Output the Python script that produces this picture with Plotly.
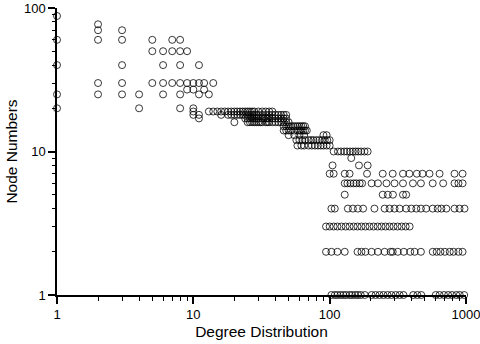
import plotly.graph_objects as go

node_levels = [88, 77, 70, 60, 50, 40, 30, 27, 25, 20, 19, 18, 17, 16, 15, 14, 13, 12, 11, 10, 9, 8, 7, 6, 5, 4, 3, 2, 1]

deg_88 = [1]
deg_77 = [2]
deg_70 = [2, 3]
deg_60 = [1, 2, 3, 5, 7, 8]
deg_50 = [5, 6, 7, 8, 9]
deg_40 = [1, 3, 6, 8, 11]
deg_30 = [2, 3, 5, 6, 7, 8, 9, 10, 11, 12, 14]
deg_27 = [9, 10, 12]
deg_25 = [1, 2, 3, 4, 6, 8, 11, 13]
deg_20 = [1, 4, 8, 10]
deg_19 = [10, 13, 14, 15, 16, 17, 18, 19, 20, 21, 22, 23, 24, 25, 26, 27, 28, 30, 32, 34, 36, 38]
deg_18 = [10, 11, 16, 18, 19, 20, 21, 22, 23, 24, 25, 26, 27, 28, 29, 30, 32, 34, 36, 38, 40, 42, 44, 46, 48]
deg_17 = [11, 24, 25, 26, 27, 28, 29, 30, 32, 33, 34, 35, 36, 38, 40, 42, 44, 46, 48]
deg_16 = [20, 25, 26, 27, 28, 29, 30, 31, 32, 34, 35, 36, 38, 40, 42, 44, 46, 48, 50]
deg_15 = [46, 48, 50, 52, 54, 56, 58, 60, 62, 64, 66]
deg_14 = [46, 48, 50, 52, 55, 58, 60, 62, 64, 66, 68]
deg_13 = [50, 55, 60, 65, 90, 95]
deg_12 = [57, 60, 63, 66, 70, 73, 76, 80, 84, 88, 92, 96, 100]
deg_11 = [58, 62, 65, 70, 74, 78, 82, 86, 90, 95, 100]
deg_10 = [107, 115, 121, 128, 134, 141, 148, 155, 162, 170, 180, 190]
deg_9 = [144]
deg_8 = [105, 164, 190]
deg_7 = [100, 107, 129, 140, 188, 245, 290, 345, 384, 436, 480, 540, 640, 824, 944]
deg_6 = [129, 135, 142, 150, 157, 166, 173, 203, 226, 261, 299, 345, 408, 467, 570, 680, 824, 880, 944]
deg_5 = [129, 245, 267, 291, 345, 364]
deg_4 = [103, 109, 136, 148, 161, 176, 213, 253, 275, 299, 326, 364, 397, 432, 467, 510,
         570, 620, 660, 718, 824, 896, 975]
deg_3 = [94, 100, 107, 114, 122, 131, 140, 150, 160, 171, 183, 196, 210, 225, 240, 257,
         275, 294, 315, 337, 361, 386]
deg_2 = [94, 103, 114, 129, 160, 171, 183, 203, 226, 253, 280, 290, 316, 350, 390, 420,
         467, 570, 610, 650, 700, 760, 810, 880, 944]
deg_1 = [103, 109, 114, 120, 126, 132, 140, 146, 154, 161, 169, 181, 203, 217, 232, 248,
         266, 284, 305, 326, 348, 410, 440, 470, 600, 640, 690, 740, 790, 850, 900, 970]

degree_rows = [deg_88, deg_77, deg_70, deg_60, deg_50, deg_40, deg_30, deg_27, deg_25, deg_20,
               deg_19, deg_18, deg_17, deg_16, deg_15, deg_14, deg_13, deg_12, deg_11, deg_10,
               deg_9, deg_8, deg_7, deg_6, deg_5, deg_4, deg_3, deg_2, deg_1]

xs, ys = [], []
for level, row in zip(node_levels, degree_rows):
    for d in row:
        xs.append(d)
        ys.append(level)

x_tick_vals = [1, 10, 100, 1000]
x_tick_text = ["1", "10", "100", "1000"]
y_tick_vals = [1, 10, 100]
y_tick_text = ["1", "10", "100"]
x_minor_vals = [2, 3, 4, 5, 6, 7, 8, 9, 20, 30, 40, 50, 60, 70, 80, 90,
                200, 300, 400, 500, 600, 700, 800, 900]
y_minor_vals = [2, 3, 4, 5, 6, 7, 8, 9, 20, 30, 40, 50, 60, 70, 80, 90]

fig = go.Figure()
fig.add_trace(go.Scatter(
    x=xs, y=ys, mode="markers", cliponaxis=False,
    marker=dict(symbol="circle-open", size=7, color="rgba(0,0,0,0.78)", line=dict(width=1)),
))
# invisible trace that activates the minor-tick overlay axes
fig.add_trace(go.Scatter(x=[1, 1000], y=[1, 100], xaxis="x2", yaxis="y2", mode="markers",
                         marker=dict(opacity=0), showlegend=False, hoverinfo="skip"))

font_family = "Liberation Sans, Arial, sans-serif"
fig.update_layout(
    width=480, height=344,
    margin=dict(l=57, r=14, t=8, b=49),
    paper_bgcolor="white", plot_bgcolor="white",
    showlegend=False,
    font=dict(family=font_family, size=13, color="#000"),
    xaxis=dict(
        type="log", range=[0, 3], tickvals=x_tick_vals, ticktext=x_tick_text,
        showline=True, linecolor="black", linewidth=1.5, mirror=False,
        ticks="outside", ticklen=7, tickwidth=1.5, tickcolor="black",
        ticklabeloverflow="allow",
        showgrid=False, zeroline=False, automargin=False,
        title=dict(text="Degree Distribution", font=dict(size=15.5), standoff=5),
    ),
    yaxis=dict(
        type="log", range=[0, 2], tickvals=y_tick_vals, ticktext=y_tick_text,
        showline=True, linecolor="black", linewidth=1.5, mirror=False,
        ticks="outside", ticklen=7, tickwidth=1.5, tickcolor="black",
        ticklabeloverflow="allow",
        showgrid=False, zeroline=False, automargin=False,
        title=dict(text="Node Numbers", font=dict(size=15.5), standoff=3),
    ),
    xaxis2=dict(
        type="log", range=[0, 3], overlaying="x", anchor="y", side="bottom",
        tickvals=x_minor_vals, showticklabels=False, showline=False,
        ticks="outside", ticklen=4.5, tickwidth=1.3, tickcolor="black",
        showgrid=False, zeroline=False, automargin=False,
    ),
    yaxis2=dict(
        type="log", range=[0, 2], overlaying="y", anchor="x", side="left",
        tickvals=y_minor_vals, showticklabels=False, showline=False,
        ticks="outside", ticklen=4.5, tickwidth=1.3, tickcolor="black",
        showgrid=False, zeroline=False, automargin=False,
    ),
)

fig.write_html("out.html", config={"displayModeBar": False},
               post_script="document.body.style.margin='0';document.body.style.overflow='hidden';")
